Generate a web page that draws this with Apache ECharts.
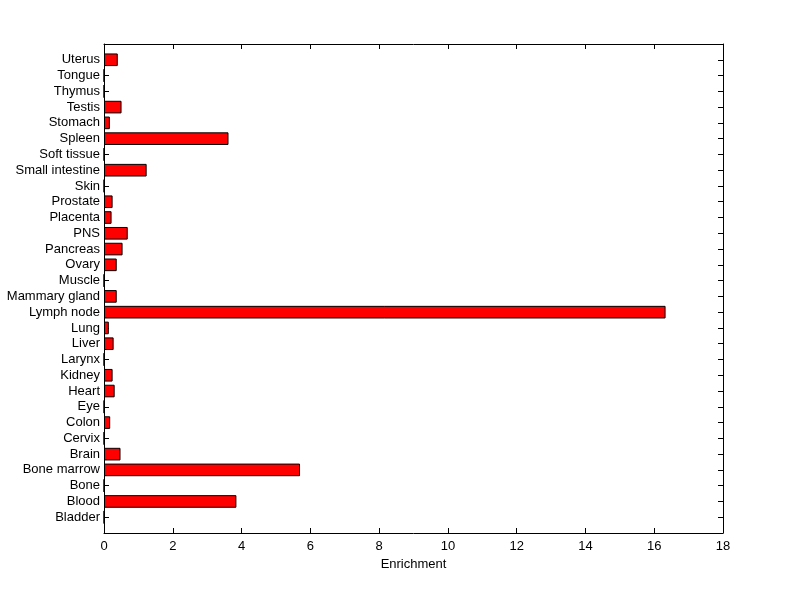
<!DOCTYPE html>
<html>
<head>
<meta charset="utf-8">
<script src="https://cdn.jsdelivr.net/npm/echarts@6/dist/echarts.min.js"></script>
<style>
  html, body { margin: 0; padding: 0; background: #fff; }
  #chart { width: 800px; height: 599px; }
</style>
</head>
<body>
<div id="chart"></div>
<script>
  // tissues, bottom to top
  const tissues = ['Bladder', 'Blood', 'Bone', 'Bone marrow', 'Brain', 'Cervix', 'Colon', 'Eye',
    'Heart', 'Kidney', 'Larynx', 'Liver', 'Lung', 'Lymph node', 'Mammary gland', 'Muscle',
    'Ovary', 'Pancreas', 'PNS', 'Placenta', 'Prostate', 'Skin', 'Small intestine',
    'Soft tissue', 'Spleen', 'Stomach', 'Testis', 'Thymus', 'Tongue', 'Uterus'];
  const enrichment = [0, 3.85, 0, 5.70, 0.48, 0, 0.18, 0,
    0.31, 0.25, 0, 0.28, 0.14, 16.33, 0.37, 0,
    0.37, 0.54, 0.69, 0.22, 0.25, 0, 1.24,
    0, 3.62, 0.17, 0.51, 0, 0, 0.40];
  const xTicks = [0, 2, 4, 6, 8, 10, 12, 14, 16, 18];

  // pad one empty slot at each end, like matlab's ylim [0, n+1]
  const cats = [''].concat(tissues, ['']);
  const vals = [null].concat(enrichment, [null]);

  const chart = echarts.init(document.getElementById('chart'));
  const font = 'Arial, "Liberation Sans", sans-serif';
  const lineStyle = { color: '#000', width: 1 };
  const tickShow = (i) => i > 0 && i < cats.length - 1;

  chart.setOption({
    animation: false,
    backgroundColor: '#fff',
    textStyle: { fontFamily: font },
    grid: { left: 104, right: 77, top: 44, bottom: 66 },
    xAxis: [{
      type: 'value',
      min: xTicks[0],
      max: xTicks[xTicks.length - 1],
      interval: 2,
      position: 'bottom',
      name: 'Enrichment',
      nameLocation: 'middle',
      nameGap: 25,
      nameTextStyle: { color: '#000', fontSize: 13, fontFamily: font },
      axisLine: { show: true, onZero: false, lineStyle },
      axisTick: { show: true, inside: true, length: 5, lineStyle },
      axisLabel: { color: '#000', fontSize: 13, margin: 7, fontFamily: font },
      splitLine: { show: false }
    }, {
      type: 'value',
      min: xTicks[0],
      max: xTicks[xTicks.length - 1],
      interval: 2,
      position: 'top',
      axisLine: { show: true, onZero: false, lineStyle },
      axisTick: { show: true, inside: true, length: 5, lineStyle },
      axisLabel: { show: false },
      splitLine: { show: false }
    }],
    yAxis: [{
      type: 'category',
      data: cats,
      boundaryGap: false,
      position: 'left',
      axisLine: { show: true, onZero: false, lineStyle },
      axisTick: { show: true, inside: true, length: 5, interval: tickShow, lineStyle },
      axisLabel: { color: '#000', fontSize: 13, margin: 4, interval: 0, fontFamily: font },
      splitLine: { show: false }
    }, {
      type: 'category',
      data: cats,
      boundaryGap: false,
      position: 'right',
      axisLine: { show: true, onZero: false, lineStyle },
      axisTick: { show: true, inside: true, length: 5, interval: tickShow, lineStyle },
      axisLabel: { show: false },
      splitLine: { show: false }
    }],
    series: [{
      type: 'bar',
      xAxisIndex: 0,
      yAxisIndex: 0,
      data: vals,
      barWidth: '80%',
      itemStyle: { color: '#ff0000', borderColor: '#000', borderWidth: 1 }
    }]
  });
</script>
</body>
</html>
